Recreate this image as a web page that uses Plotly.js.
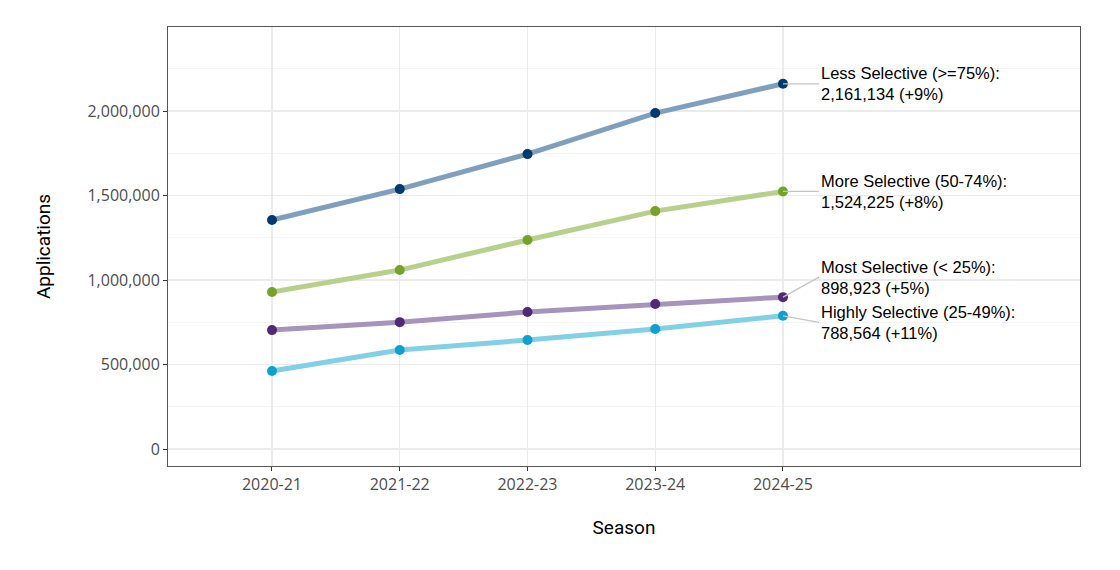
<!DOCTYPE html>
<html>
<head>
<meta charset="utf-8">
<script src="https://cdn.plot.ly/plotly-3.0.1.min.js"></script>
<style>html,body{margin:0;padding:0;background:#fff;}#chart{width:1120px;height:570px;}</style>
</head>
<body>
<div id="chart"></div>
<script>
const seasons = ["2020-21", "2021-22", "2022-23", "2023-24", "2024-25"];
const lessSelective = [1355000, 1538000, 1745000, 1988000, 2161134];
const moreSelective = [929000, 1059000, 1237000, 1408000, 1524225];
const mostSelective = [704000, 751000, 811000, 858000, 898923];
const highlySelective = [462000, 586000, 645000, 710000, 788564];
const seriesNames = ["Less Selective (>=75%)", "More Selective (50-74%)", "Most Selective (< 25%)", "Highly Selective (25-49%)"];
const seriesGrowth = ["+9%", "+8%", "+5%", "+11%"];
const yTickVals = [0, 500000, 1000000, 1500000, 2000000];
const yTickText = ["0", "500,000", "1,000,000", "1,500,000", "2,000,000"];

const seriesValues = [lessSelective, moreSelective, mostSelective, highlySelective];
const lineColors = ["#7f9fbd", "#b7d18c", "#a594bb", "#82d0e6"];
const markerColors = ["#003a70", "#76a22a", "#4e2a74", "#0ea0cc"];
const labelOffsets = [0, 0, -20, 6.5];

const traces = seriesValues.map((vals, i) => ({
  x: seasons, y: vals, type: "scatter", mode: "lines+markers",
  name: seriesNames[i],
  line: {color: lineColors[i], width: 5},
  marker: {color: markerColors[i], size: 10},
  hoverinfo: "x+y"
}));

const fmt = v => v.toLocaleString("en-US");
const last = seasons.length - 1;
const annotations = seriesValues.map((vals, i) => ({
  x: seasons[last], y: vals[last], xref: "x", yref: "y",
  text: seriesNames[i] + ":<br>" + fmt(vals[last]) + " (" + seriesGrowth[i] + ")",
  showarrow: true, arrowhead: 0, arrowwidth: 1.3, arrowcolor: "#c4c4c4",
  ax: 36, ay: labelOffsets[i], xanchor: "left", yanchor: "middle", align: "left",
  standoff: 0,
  font: {family: "Liberation Sans, Arial, sans-serif", size: 16.5, color: "#000"}
}));

const tickFont = {family: "Open Sans, sans-serif", size: 16, color: "#4d4d4d"};
const titleFont = {family: "Roboto, sans-serif", size: 19, color: "#000"};

const layout = {
  width: 1120, height: 570,
  margin: {l: 168, r: 40, t: 27, b: 104},
  paper_bgcolor: "#fff", plot_bgcolor: "#fff",
  showlegend: false,
  font: {family: "Roboto, sans-serif", color: "#4d4d4d"},
  xaxis: {
    type: "category", range: [-0.814, 6.325], automargin: false,
    showgrid: true, gridcolor: "#ebebeb", gridwidth: 1.3, zeroline: false,
    showline: true, mirror: true, linecolor: "#555", linewidth: 1,
    ticks: "outside", ticklen: 4, tickcolor: "#333", tickwidth: 1,
    tickfont: tickFont,
    title: {text: "Season", standoff: 26, font: titleFont}
  },
  yaxis: {
    range: [-100000, 2497000], automargin: false,
    tickvals: yTickVals, ticktext: yTickText,
    showgrid: true, gridcolor: "#ebebeb", gridwidth: 1.3, zeroline: false,
    minor: {dtick: 250000, tick0: 0, showgrid: true, gridcolor: "#f3f3f3", gridwidth: 0.8},
    showline: true, mirror: true, linecolor: "#555", linewidth: 1,
    ticks: "outside", ticklen: 4, tickcolor: "#333", tickwidth: 1,
    tickfont: tickFont,
    title: {text: "Applications", standoff: 31, font: titleFont}
  },
  annotations: annotations
};

Plotly.newPlot("chart", traces, layout, {displayModeBar: false, staticPlot: true});
</script>
</body>
</html>
